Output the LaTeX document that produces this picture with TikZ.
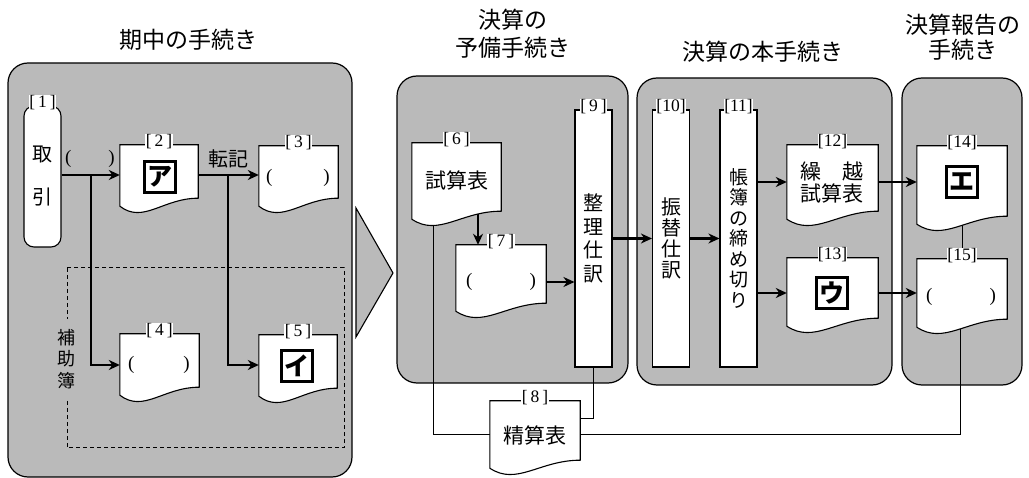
\documentclass[tikz,border=0pt]{standalone}
\usepackage{fontspec}
\setmainfont{Liberation Serif}
\newfontfamily\jp{Noto Sans CJK JP}
\usetikzlibrary{arrows.meta,calc}
\definecolor{panelgray}{RGB}{186,186,186}
\pgfdeclarelayer{back}\pgfdeclarelayer{lines}\pgfdeclarelayer{docs}
\pgfsetlayers{back,lines,docs,main}
\newcommand\drawdoc[1]{%
 \begin{pgfonlayer}{docs}
 \path[docline] let \p1=(#1.north west), \p2=(#1.south east), \n1={\x2-\x1} in
  (\p1) -- (\x2,\y1) -- (\p2) .. controls (\x1+0.55*\n1,\y2) and (\x1+0.3*\n1,\y2-26pt) .. (\x1,\y2-8pt) -- cycle;
 \end{pgfonlayer}}
\tikzset{
 panel/.style={draw, line width=1.2pt, fill=panelgray, rounded corners=20pt},
 docline/.style={draw, fill=white, line width=1.1pt},
 doc/.style 2 args={minimum width=#1, minimum height=#2, inner sep=0pt},
 tallbox/.style={draw, fill=white, line width=1.1pt, minimum width=37pt, minimum height=257pt, inner sep=0pt, align=center, font=\jp\fontsize{20}{23.5}\selectfont},
 num/.style={fill=white, inner sep=0.4pt, font=\fontsize{17.5}{17.5}\selectfont},
 arr/.style={line width=2.1pt, -{Stealth[length=11pt,width=10pt,inset=3.5pt]}},
 thinline/.style={line width=1pt},
 kbox/.style={draw, line width=2.6pt, minimum size=31pt, inner sep=0pt, font=\jp\bfseries\fontsize{25}{25}\selectfont},
 title/.style={font=\jp\fontsize{23}{28}\selectfont, align=center},
 jtext/.style={font=\jp\fontsize{21}{21}\selectfont, align=center},
 paren/.style={font=\fontsize{19}{19}\selectfont, inner sep=0pt},
}
\begin{document}
\begin{tikzpicture}[x=1pt,y=-1pt]
\useasboundingbox (0,0) rectangle (1029,478);
% panels
\begin{pgfonlayer}{back}
\path[panel] (8,63) rectangle (352,477);
\path[panel] (397,76) rectangle (628,383);
\path[panel] (637,78) rectangle (892,385);
\path[panel] (902,78) rectangle (1022,385);
\draw[line width=1.1pt, fill=panelgray] (356,208) -- (393,273) -- (356,337) -- cycle;
\end{pgfonlayer}
% titles
\node[title] (t1) at (188,40) {期中の手続き};
\node[title] (t2) at (513,34) {決算の\\予備手続き};
\node[title] (t3) at (763,52) {決算の本手続き};
\node[title, font=\jp\fontsize{23}{25}\selectfont] (t4) at (963,37.5) {決算報告の\\手続き};
% tall boxes
\node[tallbox, rounded corners=10pt, minimum height=141pt, font=\jp\fontsize{20}{43}\selectfont] (n1) at (42.5,176.5) {取\\引};
\node[tallbox] (n9) at (593.5,238.5) {整\\理\\仕\\訳};
\node[tallbox, font=\jp\fontsize{20}{21}\selectfont] (n10) at (671,238.5) {振\\替\\仕\\訳};
\node[tallbox, font=\jp\fontsize{19}{20.5}\selectfont] (n11) at (738.5,238.5) {帳\\簿\\の\\締\\め\\切\\り};
% documents
\node[doc={78}{53}] (n2) at (159,171.5) {};
\node[doc={79}{52}] (n3) at (298.5,172) {};
\node[doc={79}{53}] (n4) at (159.5,360.5) {};
\node[doc={78}{53}] (n5) at (298,361.5) {};
\node[doc={89}{68}] (n6) at (456.5,177) {};
\node[doc={90}{58}] (n7) at (501,274) {};
\node[doc={90}{59}] (n8) at (535,430.5) {};
\node[doc={91}{66}] (n12) at (832.5,178) {};
\node[doc={91}{60}] (n13) at (832.5,288) {};
\node[doc={90}{70}] (n14) at (962,181) {};
\node[doc={90}{60}] (n15) at (962,289) {};
\foreach \d in {n2,n3,n4,n5,n6,n7,n8,n12,n13,n14,n15}{\drawdoc{\d}}
% contents
\node[kbox] (k2) at (160,177) {ア};
\node[kbox] (k5) at (297,366) {イ};
\node[kbox] (k13) at (832,293) {ウ};
\node[kbox] (k14) at (962,182) {エ};
\node[paren] (p3) at (298,178) {(\hspace{51pt})};
\node[paren] (p4) at (159,365) {(\hspace{49pt})};
\node[paren] (p7) at (501,282) {(\hspace{57pt})};
\node[paren] (p15) at (961,297) {(\hspace{57pt})};
\node[paren] (p1) at (90,159) {(\hspace{37pt})};
\node[jtext, font=\jp\fontsize{20}{20}\selectfont] (tk) at (228,159) {転記};
\node[jtext] (x6) at (456.5,180) {試算表};
\node[jtext] (x8) at (535,435) {精算表};
\node[jtext, font=\jp\fontsize{21}{21.5}\selectfont] (x12) at (832,182.5) {繰　越\\試算表};
% labels
\foreach \n/\t in {n1/1,n2/2,n3/3,n4/4,n5/5,n6/6,n7/7,n8/8,n9/9}{
  \node[num] (l\n) at ([yshift=3pt]\n.north) {[\,\t\,]};}
\foreach \n/\t in {n10/10,n11/11,n12/12,n13/13,n14/14,n15/15}{
  \node[num] (l\n) at ([yshift=3pt]\n.north) {[\t]};}
% dashed sub-ledger frame
\begin{pgfonlayer}{lines}
\draw[dashed, line width=1pt, dash pattern=on 4pt off 3pt] (67,268) rectangle (344,448);
\end{pgfonlayer}
\node[fill=panelgray, inner sep=2pt, minimum height=80pt, font=\jp\fontsize{18}{21.5}\selectfont, align=center] (sub) at (66,359) {補\\助\\簿};
% arrows in period
\coordinate (b1) at (91,175);
\coordinate (b2) at (228,175);
\draw[arr] (n1.east |- b1) -- (n2.west |- b1);
\draw[arr] (b1) |- ($(n4.west)+(0,4.5)$);
\draw[arr] (n2.east |- b2) -- (n3.west |- b2);
\draw[arr] (b2) |- ($(n5.west)+(0,3.5)$);
% thin connectors
\coordinate (c68) at (433,0);
\coordinate (c67) at (478,0);
\begin{pgfonlayer}{lines}
\draw[thinline] (c68 |- n6.center) |- ($(n8.west)+(0,4.5)$);
\draw[thinline] (n9.south) |- ($(n8.east)+(0,-11.5)$);
\draw[thinline] ($(n8.center)+(0,4.5)$) -| ($(n15.center)+(-2,0)$);
\draw[thinline] (n14.center) -- (n15.center);
\draw[arr] (c67 |- n6.center) -- (c67 |- n7.north);
\end{pgfonlayer}
% arrows in closing
\coordinate (y7) at (0,282);
\coordinate (ya) at (0,182);
\coordinate (yb) at (0,293);
\draw[arr] (n7.east |- y7) -- (n9.west |- y7);
\draw[arr] (n9.east) -- (n10.west);
\draw[arr] (n10.east) -- (n11.west);
\draw[arr] (n11.east |- ya) -- (n12.west |- ya);
\draw[arr] (n11.east |- yb) -- (n13.west |- yb);
\draw[arr] (n12.east |- ya) -- (n14.west |- ya);
\draw[arr] (n13.east |- yb) -- (n15.west |- yb);
\end{tikzpicture}
\end{document}
